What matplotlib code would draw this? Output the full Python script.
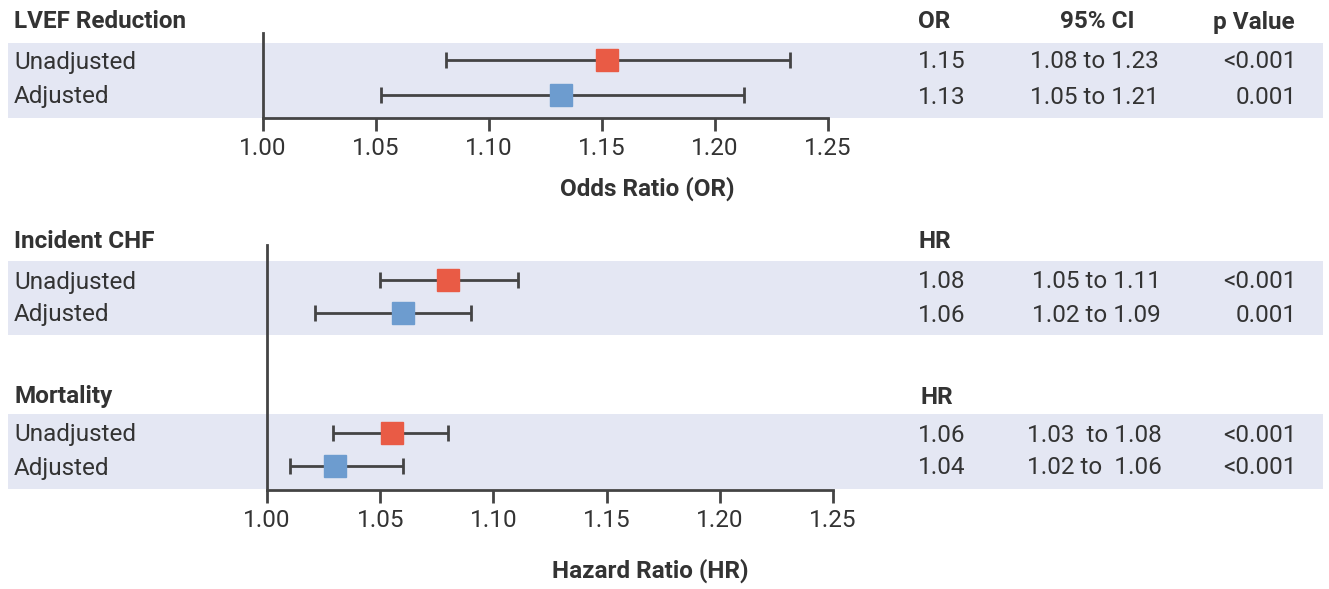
import matplotlib.pyplot as plt
from matplotlib.patches import Rectangle

plt.rcParams['font.family'] = ['Roboto', 'DejaVu Sans']

W, H = 1329, 589
TXT = '#333333'
BAND = '#e4e7f3'
RED = '#e95b45'
BLUE = '#6d9ccf'
LINE = '#444444'
FS = 17.5
BOLD = 'semibold'

row_labels = ['Unadjusted', 'Adjusted']
ticks = [1.00, 1.05, 1.10, 1.15, 1.20, 1.25]

# LVEF reduction (odds ratio)
lvef_est = [1.152, 1.132]
lvef_lo = [1.081, 1.052]
lvef_hi = [1.233, 1.213]
lvef_ratio = ['1.15', '1.13']
lvef_ci = ['1.08 to 1.23', '1.05 to 1.21']
lvef_p = ['<0.001', '0.001']

# Incident CHF (hazard ratio)
chf_est = [1.080, 1.060]
chf_lo = [1.050, 1.021]
chf_hi = [1.111, 1.090]
chf_ratio = ['1.08', '1.06']
chf_ci = ['1.05 to 1.11', '1.02 to 1.09']
chf_p = ['<0.001', '0.001']

# Mortality (hazard ratio)
mort_est = [1.055, 1.030]
mort_lo = [1.029, 1.010]
mort_hi = [1.080, 1.060]
mort_ratio = ['1.06', '1.04']
mort_ci = ['1.03  to 1.08', '1.02 to  1.06']
mort_p = ['<0.001', '<0.001']

fig = plt.figure(figsize=(W / 100, H / 100), dpi=100)

# background layer in pixel coordinates
bg = fig.add_axes([0, 0, 1, 1])
bg.set_xlim(0, W)
bg.set_ylim(H, 0)
bg.axis('off')


def ax_rect(x0, x1, y0, y1):
    return [x0 / W, 1 - y1 / H, (x1 - x0) / W, (y1 - y0) / H]


def block(title, ratio_head, ratio, ci, p, ytitle, yrows, band, xhead=918, ci_x=1030, header=False):
    bg.add_patch(Rectangle((8, band[0]), 1315, band[1] - band[0], color=BAND, lw=0, zorder=0))
    bg.text(14, ytitle, title, fontsize=FS, fontweight=BOLD, color=TXT, va='center')
    bg.text(xhead, ytitle, ratio_head, fontsize=FS, fontweight=BOLD, color=TXT, va='center')
    if header:
        bg.text(1097, ytitle, '95% CI', fontsize=FS, fontweight=BOLD, color=TXT, va='center', ha='center')
        bg.text(1295, ytitle, 'p Value', fontsize=FS, fontweight=BOLD, color=TXT, va='center', ha='right')
    for i, y in enumerate(yrows):
        bg.text(14, y + 2, row_labels[i], fontsize=FS, color=TXT, va='center')
        bg.text(918, y + 2, ratio[i], fontsize=FS, color=TXT, va='center')
        bg.text(ci_x, y + 2, ci[i], fontsize=FS, color=TXT, va='center')
        bg.text(1297, y + 2, p[i], fontsize=FS, color=TXT, va='center', ha='right')


def forest(ax, est, lo, hi, yrows):
    colors = [RED, BLUE]
    for i in range(2):
        ax.errorbar([est[i]], [yrows[i]], xerr=[[est[i] - lo[i]], [hi[i] - est[i]]],
                    fmt='none', ecolor=LINE, elinewidth=2, capsize=6, capthick=2, zorder=2)
        ax.plot(est[i], yrows[i], 's', ms=16, color=colors[i], zorder=3)


def style(ax, ytop, ybot):
    ax.set_xlim(1.0, 1.25)
    ax.set_ylim(ybot, ytop)
    ax.set_facecolor('none')
    for s in ['top', 'right']:
        ax.spines[s].set_visible(False)
    ax.spines['left'].set_color(LINE)
    ax.spines['bottom'].set_color(LINE)
    ax.spines['left'].set_linewidth(2)
    ax.spines['bottom'].set_linewidth(2)
    ax.set_yticks([])
    ax.set_xticks(ticks)
    ax.set_xticklabels(['%.2f' % t for t in ticks])
    ax.tick_params(axis='x', length=9, width=2, color=LINE, labelsize=FS, labelcolor=TXT, pad=5)


# top panel
block('LVEF Reduction', 'OR', lvef_ratio, lvef_ci, lvef_p, 22, [60, 95], (43, 118), header=True)
ax1 = fig.add_axes(ax_rect(263, 828, 33, 118))
style(ax1, 33, 118)
forest(ax1, lvef_est, lvef_lo, lvef_hi, [60, 95])
bg.text(647, 189, 'Odds Ratio (OR)', fontsize=FS, fontweight=BOLD, color=TXT, ha='center', va='center')

# bottom panel
block('Incident CHF', 'HR', chf_ratio, chf_ci, chf_p, 242, [280, 313], (261, 335), ci_x=1032)
block('Mortality', 'HR', mort_ratio, mort_ci, mort_p, 397, [433, 466], (414, 489), xhead=921, ci_x=1027)
ax2 = fig.add_axes(ax_rect(267, 833, 245, 490))
style(ax2, 245, 490)
forest(ax2, chf_est, chf_lo, chf_hi, [280, 313])
forest(ax2, mort_est, mort_lo, mort_hi, [433, 466])
bg.text(650, 571, 'Hazard Ratio (HR)', fontsize=FS, fontweight=BOLD, color=TXT, ha='center', va='center')

fig.savefig('out.png', dpi=100)
